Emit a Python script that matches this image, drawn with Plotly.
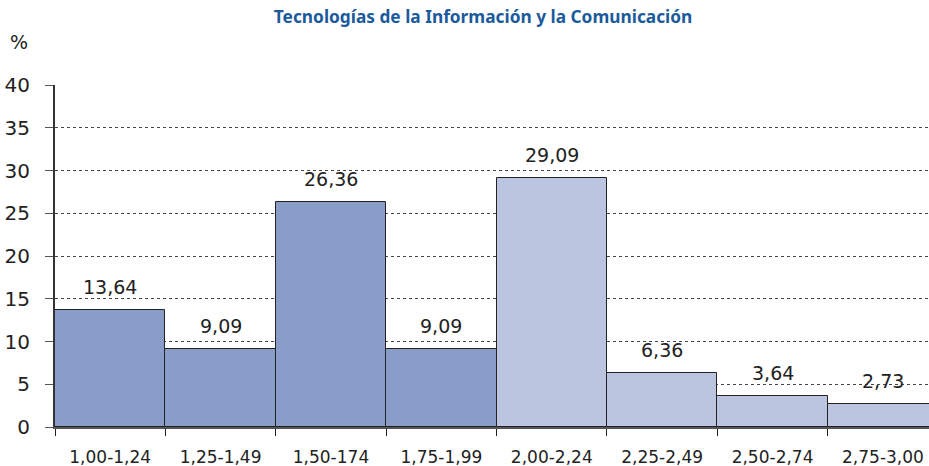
import plotly.graph_objects as go

categories = ["1,00-1,24", "1,25-1,49", "1,50-174", "1,75-1,99",
              "2,00-2,24", "2,25-2,49", "2,50-2,74", "2,75-3,00"]
values = [13.64, 9.09, 26.36, 9.09, 29.09, 6.36, 3.64, 2.73]
labels = ["13,64", "9,09", "26,36", "9,09", "29,09", "6,36", "3,64", "2,73"]
dark, light = "#8A9CC8", "#BBC5E0"
colors = [dark] * 4 + [light] * 4
y_ticks = [0, 5, 10, 15, 20, 25, 30, 35, 40]

fig = go.Figure()
fig.add_trace(go.Bar(
    x=categories, y=values,
    marker=dict(color=colors, line=dict(color="#222222", width=1)),
    width=1.0,
    hoverinfo="skip",
))

# value labels above bars
for c, v, t in zip(categories, values, labels):
    fig.add_annotation(x=c, y=v, text=t, showarrow=False, yanchor="bottom",
                       yshift=10, font=dict(family="DejaVu Sans", size=19, color="#222222"))

fig.add_annotation(xref="paper", yref="paper", x=-0.041, y=1.126, text="%",
                   showarrow=False, xanchor="center", yanchor="middle",
                   font=dict(family="DejaVu Sans", size=19, color="#222222"))

fig.update_layout(
    width=929, height=466,
    margin=dict(l=55, r=0, t=85, b=39),
    paper_bgcolor="white", plot_bgcolor="white",
    bargap=0, showlegend=False,
    title=dict(text="<b>Tecnologías de la Información y la Comunicación</b>",
               x=0.52, xanchor="center", y=0.963, yanchor="middle",
               font=dict(family="Noto Sans", size=17.3, color="#1B5B9B")),
    # last bar runs past the right edge, as in the original
    xaxis=dict(range=[-0.5, 7.417], showline=True, linecolor="#555555", linewidth=2,
               ticks="outside", tickson="boundaries", ticklen=7, tickcolor="#222222",
               ticklabelstandoff=14, showgrid=False,
               tickfont=dict(family="DejaVu Sans", size=17, color="#222222")),
    yaxis=dict(range=[0, 40], tickvals=y_ticks, showline=True, linecolor="#333333",
               linewidth=2, ticks="outside", ticklen=8, tickcolor="#555555",
               ticklabelstandoff=11, zeroline=False,
               showgrid=True, gridcolor="#444444", griddash="dot", gridwidth=1,
               tickfont=dict(family="DejaVu Sans", size=20, color="#222222")),
)

fig.write_html("out.html", config={"displayModeBar": False},
               post_script="document.body.style.margin='0';document.body.style.overflow='hidden';")
